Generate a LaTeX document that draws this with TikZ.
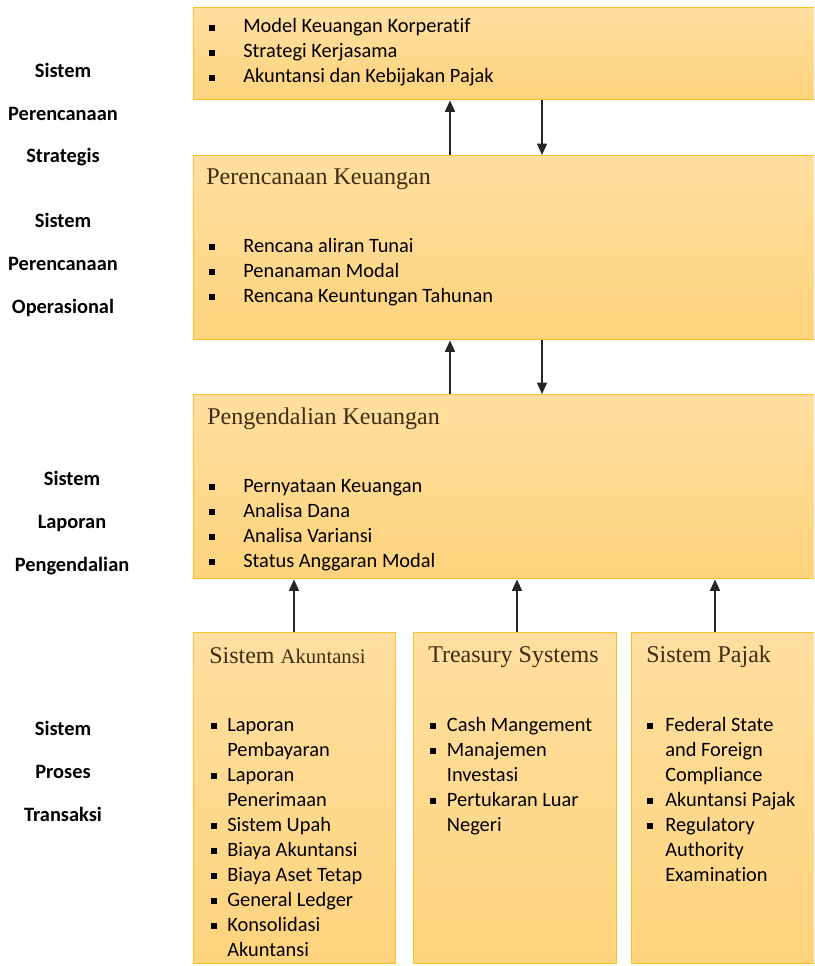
\documentclass[tikz,border=0pt]{standalone}
\usepackage{fontspec}
\setmainfont{Carlito}[Ligatures=NoCommon]
\newfontfamily\headfont{Liberation Serif}
\usepackage{xcolor}
\usepackage{tikz}
\usetikzlibrary{arrows.meta}

\definecolor{paneltop}{HTML}{FFDFA1}
\definecolor{panelbot}{HTML}{FED37C}
\definecolor{panelline}{HTML}{FBC22C}
\definecolor{headbrown}{HTML}{3F2C12}
\definecolor{arrowgray}{HTML}{262626}

\newcommand{\sqbul}{\raisebox{1.7pt}{\rule{4.1pt}{4.1pt}}}
\newcommand{\bitem}[2]{\makebox[#1][l]{\sqbul}#2}
\newcommand{\bcont}[2]{\hspace*{#1}#2}

\begin{document}
\begin{tikzpicture}[
  x=0.75pt, y=-0.75pt,
  >={Triangle[width=7.5pt,length=8.5pt]},
  panel/.style={draw=panelline, line width=1.1pt, top color=paneltop, bottom color=panelbot, anchor=north west, inner sep=0pt},
  paneltitle/.style={anchor=base west, inner sep=0pt, font=\headfont\fontsize{18}{22}\selectfont, text=headbrown},
  itemtext/.style={anchor=base west, inner sep=0pt, align=left, font=\fontsize{15.3}{18.75}\selectfont},
  sidelabel/.style={anchor=base, inner sep=0pt, align=center, font=\bfseries\fontsize{15.3}{31.9}\selectfont},
  flowarrow/.style={->, draw=arrowgray, line width=1pt},
]
\useasboundingbox (0,0) rectangle (814,966);
\clip (0,0) rectangle (814,966);

% Level labels (placed at the baseline of their last line)
\node[sidelabel] (lblStrat) at (63,163) {Sistem\\Perencanaan\\Strategis};
\node[sidelabel] (lblOps) at (63,313) {Sistem\\Perencanaan\\Operasional};
\node[sidelabel] (lblCtrl) at (72,571) {Sistem\\Laporan\\Pengendalian};
\node[sidelabel] (lblTrans) at (63,821) {Sistem\\Proses\\Transaksi};

% Panels
\node[panel, minimum width=468.75pt, minimum height=69pt] (strat) at (193,7) {};
\node[panel, minimum width=468.75pt, minimum height=138pt] (plan) at (193,155) {};
\node[panel, minimum width=468.75pt, minimum height=138pt] (ctrl) at (193,394) {};
\node[panel, minimum width=151.5pt, minimum height=248.25pt] (acct) at (193,632) {};
\node[panel, minimum width=152.25pt, minimum height=248.25pt] (treas) at (413,632) {};
\node[panel, minimum width=140.25pt, minimum height=248.25pt] (tax) at (631,632) {};

% Panel contents
\node[itemtext] (stratList) at (209,83) {\bitem{25.5pt}{Model Keuangan Korperatif}\\
  \bitem{25.5pt}{Strategi Kerjasama}\\
  \bitem{25.5pt}{Akuntansi dan Kebijakan Pajak}};

\node[paneltitle] (planTitle) at (206,185) {Perencanaan Keuangan};
\node[itemtext] (planList) at (209,302) {\bitem{25.5pt}{Rencana aliran Tunai}\\
  \bitem{25.5pt}{Penanaman Modal}\\
  \bitem{25.5pt}{Rencana Keuntungan Tahunan}};

\node[paneltitle] (ctrlTitle) at (207,424) {Pengendalian Keuangan};
\node[itemtext] (ctrlList) at (209,567) {\bitem{25.5pt}{Pernyataan Keuangan}\\
  \bitem{25.5pt}{Analisa Dana}\\
  \bitem{25.5pt}{Analisa Variansi}\\
  \bitem{25.5pt}{Status Anggaran Modal}};

\node[paneltitle] (acctTitle) at (209,663) {Sistem {\fontsize{15.5}{18}\selectfont Akuntansi}};
\node[itemtext] (acctList) at (211,956) {\bitem{12pt}{Laporan}\\
  \bcont{12pt}{Pembayaran}\\
  \bitem{12pt}{Laporan}\\
  \bcont{12pt}{Penerimaan}\\
  \bitem{12pt}{Sistem Upah}\\
  \bitem{12pt}{Biaya Akuntansi}\\
  \bitem{12pt}{Biaya Aset Tetap}\\
  \bitem{12pt}{General Ledger}\\
  \bitem{12pt}{Konsolidasi}\\
  \bcont{12pt}{Akuntansi}};

\node[paneltitle] (treasTitle) at (428,662) {Treasury Systems};
\node[itemtext] (treasList) at (430,831) {\bitem{12.5pt}{Cash Mangement}\\
  \bitem{12.5pt}{Manajemen}\\
  \bcont{12.5pt}{Investasi}\\
  \bitem{12.5pt}{Pertukaran Luar}\\
  \bcont{12.5pt}{Negeri}};

\node[paneltitle] (taxTitle) at (646,662) {Sistem Pajak};
\node[itemtext] (taxList) at (647,881) {\bitem{13.5pt}{Federal State}\\
  \bcont{13.5pt}{and Foreign}\\
  \bcont{13.5pt}{Compliance}\\
  \bitem{13.5pt}{Akuntansi Pajak}\\
  \bitem{13.5pt}{Regulatory}\\
  \bcont{13.5pt}{Authority}\\
  \bcont{13.5pt}{Examination}};

% Arrow columns
\coordinate (colL) at (450,0);
\coordinate (colR) at (542,0);
\coordinate (colA) at (294,0);
\coordinate (colB) at (517,0);
\coordinate (colC) at (715,0);

% Arrows
\draw[flowarrow] (plan.north -| colL) -- (strat.south -| colL);
\draw[flowarrow] (strat.south -| colR) -- (plan.north -| colR);
\draw[flowarrow] (ctrl.north -| colL) -- (plan.south -| colL);
\draw[flowarrow] (plan.south -| colR) -- (ctrl.north -| colR);
\draw[flowarrow] (acct.north -| colA) -- (ctrl.south -| colA);
\draw[flowarrow] (treas.north -| colB) -- (ctrl.south -| colB);
\draw[flowarrow] (tax.north -| colC) -- (ctrl.south -| colC);
\end{tikzpicture}
\end{document}
